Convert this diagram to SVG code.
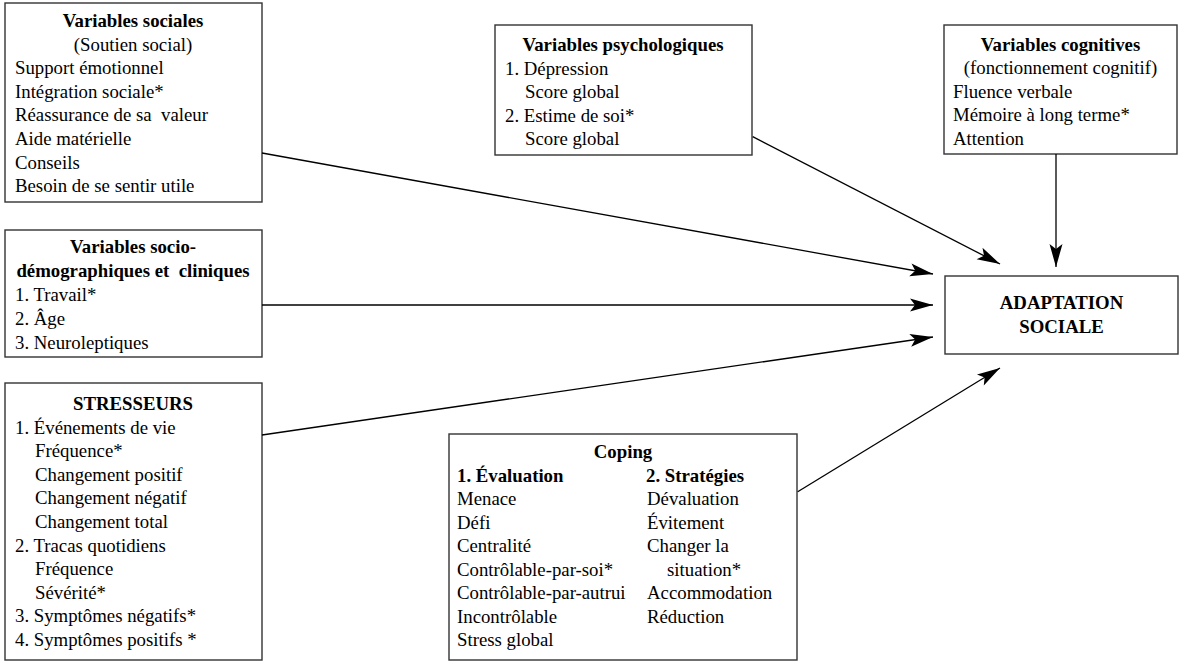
<svg xmlns="http://www.w3.org/2000/svg" width="1186" height="663" viewBox="0 0 1186 663">
<style>
.box{fill:#fff;stroke:#333;stroke-width:1.4}
text{font-family:"Liberation Serif","Times New Roman",Times,serif;font-size:18.8px;fill:#000}
.b{font-weight:bold}
.c{text-anchor:middle}
.conn{stroke:#000;stroke-width:1.3;fill:none;marker-end:url(#ah)}
</style>
<defs>
<marker id="ah" markerUnits="userSpaceOnUse" viewBox="-24 -8 25 16" markerWidth="25" markerHeight="16" refX="0" refY="0" orient="auto">
<path d="M0,0 L-23,-6.5 L-18,0 L-23,6.5 Z" fill="#000"/>
</marker>
</defs>
<rect width="1186" height="663" fill="#fff"/>

<g id="sociales">
<rect class="box" x="5" y="3" width="257" height="199"/>
<text class="b c" x="133" y="27">Variables sociales</text>
<text class="c" x="133" y="50.6">(Soutien social)</text>
<text x="15" y="74.2">Support émotionnel</text>
<text x="15" y="97.8">Intégration sociale*</text>
<text x="15" y="121.4" xml:space="preserve">Réassurance de sa  valeur</text>
<text x="15" y="145">Aide matérielle</text>
<text x="15" y="168.6">Conseils</text>
<text x="15" y="192.2">Besoin de se sentir utile</text>
</g>

<g id="sociodemo">
<rect class="box" x="5" y="230" width="257" height="127"/>
<text class="b c" x="133" y="253">Variables socio-</text>
<text class="b c" x="133" y="277" xml:space="preserve">démographiques et  cliniques</text>
<text x="15" y="301">1. Travail*</text>
<text x="15" y="325">2. Âge</text>
<text x="15" y="349">3. Neuroleptiques</text>
</g>

<g id="stresseurs">
<rect class="box" x="5" y="383" width="257" height="277"/>
<text class="b c" x="133" y="410">STRESSEURS</text>
<text x="15" y="433.6">1. Événements de vie</text>
<text x="35" y="457.2">Fréquence*</text>
<text x="35" y="480.8">Changement positif</text>
<text x="35" y="504.4">Changement négatif</text>
<text x="35" y="528">Changement total</text>
<text x="15" y="551.6">2. Tracas quotidiens</text>
<text x="35" y="575.2">Fréquence</text>
<text x="35" y="598.8">Sévérité*</text>
<text x="15" y="622.4">3. Symptômes négatifs*</text>
<text x="15" y="646">4. Symptômes positifs *</text>
</g>

<g id="psychologiques">
<rect class="box" x="495" y="25" width="257" height="130"/>
<text class="b c" x="623" y="51">Variables psychologiques</text>
<text x="505" y="74.5">1. Dépression</text>
<text x="525" y="98">Score global</text>
<text x="505" y="121.5">2. Estime de soi*</text>
<text x="525" y="145">Score global</text>
</g>

<g id="cognitives">
<rect class="box" x="944" y="25" width="233" height="129"/>
<text class="b c" x="1060.5" y="50.5">Variables cognitives</text>
<text class="c" x="1060.5" y="74">(fonctionnement cognitif)</text>
<text x="953" y="97.5">Fluence verbale</text>
<text x="953" y="121">Mémoire à long terme*</text>
<text x="953" y="144.5">Attention</text>
</g>

<g id="adaptation">
<rect class="box" x="945" y="276" width="233" height="78"/>
<text class="b c" x="1061.5" y="308.5">ADAPTATION</text>
<text class="b c" x="1061.5" y="333">SOCIALE</text>
</g>

<g id="coping">
<rect class="box" x="449" y="434" width="348" height="226"/>
<text class="b c" x="623" y="458">Coping</text>
<text class="b" x="457" y="481.5">1. Évaluation</text>
<text class="b" x="646" y="481.5">2. Stratégies</text>
<text x="457" y="505">Menace</text>
<text x="457" y="528.5">Défi</text>
<text x="457" y="552">Centralité</text>
<text x="457" y="575.5">Contrôlable-par-soi*</text>
<text x="457" y="599">Contrôlable-par-autrui</text>
<text x="457" y="622.5">Incontrôlable</text>
<text x="457" y="646">Stress global</text>
<text x="647" y="505">Dévaluation</text>
<text x="647" y="528.5">Évitement</text>
<text x="647" y="552">Changer la</text>
<text x="667" y="575.5">situation*</text>
<text x="647" y="599">Accommodation</text>
<text x="647" y="622.5">Réduction</text>
</g>

<g id="connectors">
<line class="conn" x1="262" y1="153" x2="933" y2="274"/>
<line class="conn" x1="262" y1="305" x2="933" y2="305"/>
<line class="conn" x1="262" y1="435" x2="933" y2="337"/>
<line class="conn" x1="752.7" y1="136.7" x2="1000" y2="264"/>
<line class="conn" x1="1056" y1="154" x2="1056" y2="267"/>
<line class="conn" x1="797.7" y1="491.7" x2="1000" y2="368"/>
</g>
</svg>
